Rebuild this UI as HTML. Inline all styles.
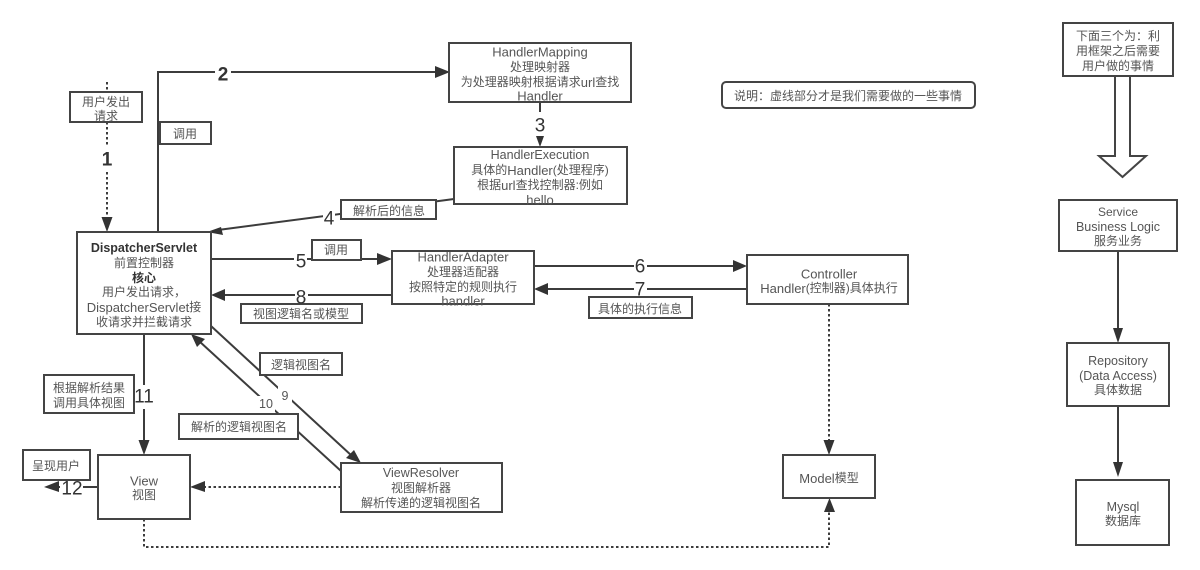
<!DOCTYPE html>
<html><head><meta charset="utf-8"><style>
html,body{margin:0;padding:0;background:#fff}
svg{display:block;filter:blur(.3px)}
text{font-family:"Liberation Sans","Noto Sans CJK SC",sans-serif;font-size:12px;fill:#555;text-anchor:middle;dominant-baseline:central}
.b{fill:#fff;stroke:#444;stroke-width:2}
.l{fill:none;stroke:#3c3c3c;stroke-width:2}
.d{fill:none;stroke:#3c3c3c;stroke-width:2;stroke-dasharray:2.5 2.5}
.a{fill:#333}
.g{fill:#fff}
.n{font-size:19px;fill:#333}
.s{font-size:12.5px;fill:#555}
.w{font-size:13px}
.m{font-size:12.5px}
</style></head><body>
<svg width="1200" height="570" viewBox="0 0 1200 570" xmlns="http://www.w3.org/2000/svg">
<rect width="1200" height="570" fill="#fff"/>
<!-- connectors -->
<path class="d" d="M107 82V220"/>
<polygon class="a" points="101.500,217 112.500,217 107,232"/>
<path class="l" d="M158 232V72H438"/>
<polygon class="a" points="435,66 435,78 450,72"/>
<path class="l" d="M540 102V138"/>
<polygon class="a" points="536,136 544,136 540,147"/>
<path class="l" d="M454 199L218 230"/>
<polygon class="a" points="207,232 221,227 223,235"/>
<path class="l" d="M211 259H380"/>
<polygon class="a" points="377,253 377,265 392,259"/>
<path class="l" d="M392 295H222"/>
<polygon class="a" points="225,289 225,301 211,295"/>
<path class="l" d="M534 266H736"/>
<polygon class="a" points="733,260 733,272 747,266"/>
<path class="l" d="M747 289H545"/>
<polygon class="a" points="548,283 548,295 534,289"/>
<path class="d" d="M829 304V445"/>
<polygon class="a" points="823.500,440 834.500,440 829,455"/>
<path class="l" d="M144 334V445"/>
<polygon class="a" points="138.500,440 149.500,440 144,455"/>
<path class="l" d="M98 487H55"/>
<polygon class="a" points="59,481 59,492 44,487"/>
<path class="d" d="M341 487H202"/>
<polygon class="a" points="205,481 205,492 190,487"/>
<path class="l" d="M211 326L352 456"/>
<polygon class="a" points="346,458 354,450 361,463"/>
<path class="l" d="M341 471L199 341"/>
<polygon class="a" points="191,334 205,339 197,347"/>
<path class="d" d="M144 519V547H829V510"/>
<polygon class="a" points="824,512 835,512 829.500,498"/>
<path class="l" d="M1118 251V332"/>
<polygon class="a" points="1113,328 1123,328 1118,343"/>
<path class="l" d="M1118 406V468"/>
<polygon class="a" points="1113,462 1123,462 1118,477"/>
<polygon points="1115,76 1130,76 1130,156 1146,156 1122.500,177 1099,156 1115,156" fill="#fff" stroke="#444" stroke-width="2"/>
<!-- connector number gaps -->
<rect class="g" x="100" y="146" width="14" height="26"/>
<rect class="g" x="215" y="62" width="16" height="24"/>
<rect class="g" x="533" y="112" width="14" height="24"/>
<rect class="g" x="323" y="208" width="12" height="22"/>
<rect class="g" x="294" y="250" width="13" height="22"/>
<rect class="g" x="634" y="256" width="13" height="22"/>
<rect class="g" x="634" y="282" width="13" height="14"/>
<rect class="g" x="295" y="290" width="13" height="14"/>
<rect class="g" x="278" y="386" width="14" height="20"/>
<rect class="g" x="257" y="396" width="18" height="16"/>
<rect class="g" x="134" y="385" width="20" height="24"/>
<rect class="g" x="60" y="478" width="23" height="22"/>
<!-- nodes -->
<rect class="b" x="77" y="232" width="134" height="102"/>
<rect class="b" x="70" y="92" width="72" height="30"/>
<rect class="b" x="160" y="122" width="51" height="22"/>
<rect class="b" x="449" y="43" width="182" height="59"/>
<rect class="b" x="454" y="147" width="173" height="57"/>
<rect class="b" x="341" y="200" width="95" height="19"/>
<rect class="b" x="312" y="240" width="49" height="20"/>
<rect class="b" x="392" y="251" width="142" height="53"/>
<rect class="b" x="241" y="304" width="121" height="19"/>
<rect class="b" x="747" y="255" width="161" height="49"/>
<rect class="b" x="589" y="297" width="103" height="21"/>
<rect class="b" x="783" y="455" width="92" height="43"/>
<rect class="b" x="98" y="455" width="92" height="64"/>
<rect class="b" x="23" y="450" width="67" height="30"/>
<rect class="b" x="44" y="375" width="90" height="38"/>
<rect class="b" x="341" y="463" width="161" height="49"/>
<rect class="b" x="260" y="353" width="82" height="22"/>
<rect class="b" x="179" y="414" width="119" height="25"/>
<rect class="b" x="722" y="82" width="253" height="26" rx="4"/>
<rect class="b" x="1063" y="23" width="110" height="53"/>
<rect class="b" x="1059" y="200" width="118" height="51"/>
<rect class="b" x="1067" y="343" width="102" height="63"/>
<rect class="b" x="1076" y="480" width="93" height="65"/>
<!-- node text -->
<text x="144" y="248" class="m" style="font-weight:bold;fill:#333">DispatcherServlet</text>
<text x="144" y="263">前置控制器</text>
<text x="144" y="278" style="font-weight:bold;fill:#333">核心</text>
<text x="144" y="292">用户发出请求，</text>
<text x="144" y="307"><tspan class="w">DispatcherServlet</tspan>接</text>
<text x="144" y="322">收请求并拦截请求</text>
<text x="106" y="102">用户发出</text>
<text x="106" y="116">请求</text>
<text x="185" y="134">调用</text>
<text x="540" y="52" class="w">HandlerMapping</text>
<text x="540" y="67">处理映射器</text>
<text x="540" y="82">为处理器映射根据请求<tspan class="w">url</tspan>查找</text>
<text x="540" y="96" class="w">Handler</text>
<text x="540" y="155" class="m">HandlerExecution</text>
<text x="540" y="170">具体的<tspan class="w">Handler</tspan>(处理程序)</text>
<text x="540" y="185">根据<tspan class="w">url</tspan>查找控制器:例如</text>
<text x="540" y="200" class="w">hello</text>
<text x="389" y="211">解析后的信息</text>
<text x="336" y="250">调用</text>
<text x="463" y="257" class="w">HandlerAdapter</text>
<text x="463" y="272">处理器适配器</text>
<text x="463" y="287">按照特定的规则执行</text>
<text x="463" y="301" class="w">handler</text>
<text x="301" y="314">视图逻辑名或模型</text>
<text x="829" y="274" class="w">Controller</text>
<text x="829" y="288"><tspan class="w">Handler</tspan>(控制器)具体执行</text>
<text x="640" y="309">具体的执行信息</text>
<text x="829" y="478"><tspan class="w">Model</tspan>模型</text>
<text x="144" y="481" class="w">View</text>
<text x="144" y="495">视图</text>
<text x="56" y="466">呈现用户</text>
<text x="89" y="388">根据解析结果</text>
<text x="89" y="403">调用具体视图</text>
<text x="421" y="473" class="m">ViewResolver</text>
<text x="421" y="488">视图解析器</text>
<text x="421" y="503">解析传递的逻辑视图名</text>
<text x="301" y="365">逻辑视图名</text>
<text x="239" y="427">解析的逻辑视图名</text>
<text x="848" y="96">说明：虚线部分才是我们需要做的一些事情</text>
<text x="1118" y="36">下面三个为：利</text>
<text x="1118" y="51">用框架之后需要</text>
<text x="1118" y="66">用户做的事情</text>
<text x="1118" y="212">Service</text>
<text x="1118" y="227" class="m">Business Logic</text>
<text x="1118" y="241">服务业务</text>
<text x="1118" y="361" class="m">Repository</text>
<text x="1118" y="376" class="m">(Data Access)</text>
<text x="1118" y="390">具体数据</text>
<text x="1123" y="507" class="m">Mysql</text>
<text x="1123" y="521">数据库</text>
<!-- connector numbers -->
<text class="n" x="107" y="160" style="font-weight:bold">1</text>
<text class="n" x="223" y="75" style="font-weight:bold">2</text>
<text class="n" x="540" y="126">3</text>
<text class="n" x="329" y="219">4</text>
<text class="n" x="301" y="262">5</text>
<text class="n" x="640" y="267">6</text>
<text class="n" x="640" y="290">7</text>
<text class="n" x="301" y="298">8</text>
<text class="s" x="285" y="396">9</text>
<text class="s" x="266" y="404">10</text>
<text class="n" x="144" y="397">11</text>
<text class="n" x="72" y="489">12</text>
</svg>
</body></html>
